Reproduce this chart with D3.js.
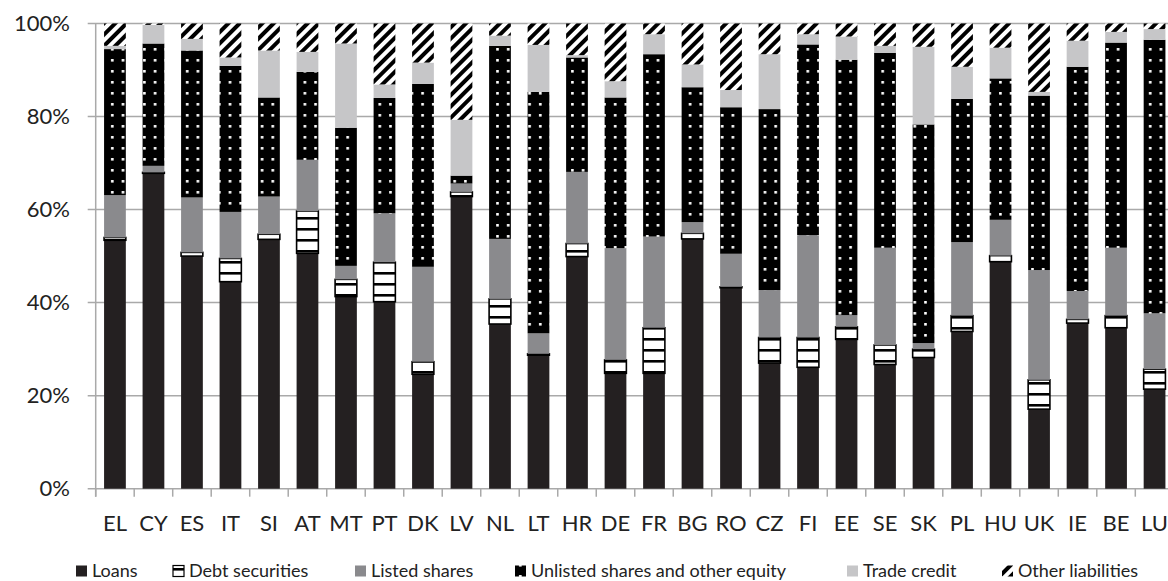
<!DOCTYPE html>
<html><head><meta charset="utf-8">
<script src="https://cdn.jsdelivr.net/npm/d3@7"></script>
<style>
html,body{margin:0;padding:0;background:#fff;overflow:hidden}
svg{display:block;font-family:Lato,"Open Sans",sans-serif}
</style></head><body>
<svg id="c" width="1168" height="581"></svg>
<script>
const countries = ["EL","CY","ES","IT","SI","AT","MT","PT","DK","LV","NL","LT","HR","DE","FR","BG","RO","CZ","FI","EE","SE","SK","PL","HU","UK","IE","BE","LU"];
const seriesNames = ["Loans","Debt securities","Listed shares","Unlisted shares and other equity","Trade credit","Other liabilities"];
const loans    = [53.4,67.8,50.0,44.5,53.6,50.6,41.3,40.2,24.6,62.8,35.4,28.7,49.9,24.8,24.8,53.7,43.2,27.0,26.1,32.1,26.7,28.2,33.8,48.8,17.1,35.6,34.6,21.4];
const debt     = [0.6,0.2,0.8,5.0,1.1,9.1,3.7,8.5,2.7,1.0,5.4,0.3,2.8,2.9,9.8,1.2,0.2,5.5,6.4,2.7,4.2,1.8,3.4,1.3,6.3,0.8,2.6,4.3];
const listed   = [9.1,1.4,11.8,10.0,8.1,11.0,2.9,10.5,20.4,1.8,12.9,4.4,15.4,24.0,19.6,2.4,7.1,10.2,22.0,2.5,20.9,1.3,15.8,7.7,23.6,6.1,14.6,12.0];
const unlisted = [31.4,26.3,31.6,31.4,21.3,18.9,29.7,24.8,39.3,1.7,41.5,51.9,24.6,32.4,39.2,29.0,31.5,38.9,41.0,54.9,41.9,47.0,30.8,30.4,37.5,48.2,44.1,58.8];
const trade    = [0.7,4.0,2.5,1.8,10.1,4.3,18.1,2.9,4.6,12.0,2.2,10.1,0.5,3.5,4.3,4.9,3.7,11.8,2.2,5.0,1.5,16.7,6.9,6.6,0.8,5.6,2.3,2.3];
const other    = [4.8,0.3,3.3,7.3,5.8,6.1,4.3,13.1,8.4,20.7,2.6,4.6,6.8,12.4,2.3,8.8,14.3,6.6,2.3,2.8,4.8,5.0,9.3,5.2,14.7,3.7,1.8,1.2];
const yTicks = [0,0.2,0.4,0.6,0.8,1.0];

const keys = ["loans","debt","listed","unlisted","trade","other"];
const cols = [loans,debt,listed,unlisted,trade,other];
const table = countries.map((c,i)=>{const o={country:c}; keys.forEach((k,j)=>o[k]=cols[j][i]); return o;});

const svg = d3.select("#c");
const defs = svg.append("defs");
const pd = defs.append("pattern").attr("id","pDebt").attr("patternUnits","userSpaceOnUse").attr("width",10).attr("height",11);
pd.append("rect").attr("width",10).attr("height",11).attr("fill","#fff");
pd.append("rect").attr("y",8).attr("width",10).attr("height",2.6).attr("fill","#000");
const pu = defs.append("pattern").attr("id","pUnl").attr("patternUnits","userSpaceOnUse").attr("width",10.7).attr("height",11);
pu.append("rect").attr("width",10.7).attr("height",11).attr("fill","#000");
pu.append("rect").attr("x",4).attr("y",4).attr("width",2.6).attr("height",2.6).attr("fill","#fff");
const po = defs.append("pattern").attr("id","pOth").attr("patternUnits","userSpaceOnUse").attr("width",8).attr("height",8).attr("patternTransform","rotate(45)");
po.append("rect").attr("width",8).attr("height",8).attr("fill","#fff");
po.append("rect").attr("width",4).attr("height",8).attr("fill","#000");

const fills = {loans:"#242021",debt:"url(#pDebt)",listed:"#8a8a8d",unlisted:"url(#pUnl)",trade:"#c6c6c8",other:"url(#pOth)"};

const x0=95.7, x1=1173.8, yBot=488.7, yTop=23.5;
const x = d3.scaleBand().domain(countries).range([x0,x1]).paddingInner(0.435).paddingOuter(0.2175);
const y = d3.scaleLinear().domain([0,1]).range([yBot,yTop]);

const gridCol="#a9a9a9";
svg.append("g").selectAll("line").data(yTicks).join("line")
  .attr("x1",x0-8).attr("x2",1168).attr("y1",d=>y(d)).attr("y2",d=>y(d))
  .attr("stroke",gridCol).attr("stroke-width",1.5);
svg.append("line").attr("x1",x0).attr("x2",x0).attr("y1",yTop).attr("y2",yBot+8).attr("stroke",gridCol).attr("stroke-width",1.5);
const step = x.step();
const bounds = d3.range(countries.length+1).map(i=>x0+i*step);
svg.append("g").selectAll("line").data(bounds).join("line")
  .attr("x1",d=>d).attr("x2",d=>d).attr("y1",yBot).attr("y2",yBot+8)
  .attr("stroke",gridCol).attr("stroke-width",1.5);

const yAxis = d3.axisLeft(y).tickValues(yTicks).tickFormat(d3.format(".0%")).tickSize(0).tickPadding(0);
const ga = svg.append("g").attr("transform",`translate(70,0)`).call(yAxis);
ga.select(".domain").remove();
ga.selectAll("text").attr("font-size",22).attr("fill","#222").attr("font-family","Lato,'Open Sans',sans-serif");

const xAxis = d3.axisBottom(x).tickSize(0).tickPadding(0);
const gx = svg.append("g").attr("transform",`translate(0,${yBot+35})`).call(xAxis);
gx.select(".domain").remove();
gx.selectAll("text").attr("font-size",22).attr("fill","#222").attr("dy","0.35em").attr("font-family","Lato,'Open Sans',sans-serif");

const stack = d3.stack().keys(keys).value((d,k)=>d[k]/100)(table);
const gb = svg.append("g");
stack.forEach(layer=>{
  const k = layer.key;
  gb.append("g").selectAll("rect").data(layer).join("rect")
    .attr("x",d=>x(d.data.country)).attr("width",x.bandwidth())
    .attr("y",d=>y(d[1])).attr("height",d=>Math.max(0,y(d[0])-y(d[1])))
    .attr("fill",fills[k])
    .attr("stroke",k==="debt"?"#000":"none").attr("stroke-width",k==="debt"?1.6:0);
});

const legX = [76,173,355,515,847,1002];
const lg = svg.append("g").attr("transform","translate(0,571)");
seriesNames.forEach((n,i)=>{
  const g = lg.append("g").attr("transform",`translate(${legX[i]},0)`);
  g.append("rect").attr("x",0).attr("y",-5.5).attr("width",11).attr("height",11)
    .attr("fill",fills[keys[i]]).attr("stroke",keys[i]==="debt"?"#000":"none").attr("stroke-width",1.2);
  g.append("text").attr("x",16).attr("y",0).attr("dy","0.33em").attr("font-size",18).attr("fill","#222").text(n);
});
</script>
</body></html>
